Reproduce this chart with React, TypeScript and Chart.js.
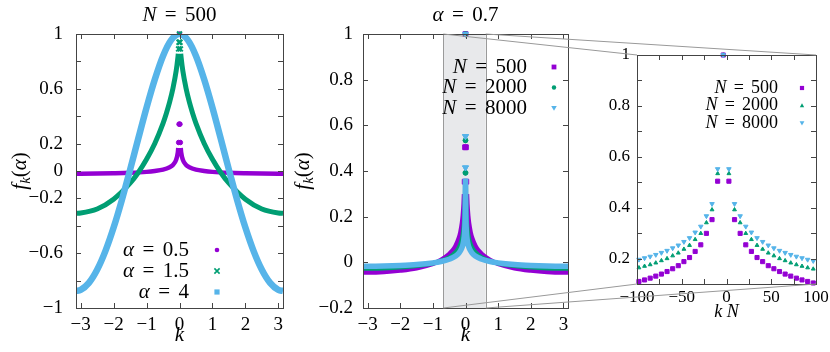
import React, { useEffect, useRef } from "react";
import { Chart, registerables } from "chart.js";
Chart.register(...registerables);

const PURPLE = "#9400d3";
const GREEN = "#009e73";
const BLUE = "#56b4e9";
const SERIF = '"Liberation Serif", "DejaVu Serif", serif';

// ---------------- Panel 1: N = 500 ----------------
const p1XTicks = [-3, -2, -1, 0, 1, 2, 3];
const p1YTicks = [-1, -0.8, -0.6, -0.4, -0.2, 0, 0.2, 0.4, 0.6, 0.8, 1];
const p1YLabels = [-1, -0.6, -0.2, 0, 0.2, 0.6, 1];

const a05K = [-3.1416, -3, -2.5, -2, -1.5, -1, -0.75, -0.5, -0.3, -0.2, -0.1, -0.05, -0.0377, 0, 0.0377, 0.05, 0.1, 0.2, 0.3, 0.5, 0.75, 1, 1.5, 2, 2.5, 3, 3.1416];
const a05F = [-0.02, -0.02, -0.019, -0.017, -0.0135, -0.0064, 0.0, 0.01, 0.0275, 0.0445, 0.083, 0.137, 0.168, null, 0.168, 0.137, 0.083, 0.0445, 0.0275, 0.01, 0.0, -0.0064, -0.0135, -0.017, -0.019, -0.02, -0.02];
const a05PeakK = [0, -0.0126, 0.0126, -0.0251, 0.0251];
const a05PeakF = [1, 0.342, 0.342, 0.208, 0.208];

const a15K = [-3.1416, -3, -2.5, -2, -1.5, -1.25, -1, -0.75, -0.5, -0.4, -0.3, -0.2, -0.1, -0.05, -0.0377, 0, 0.0377, 0.05, 0.1, 0.2, 0.3, 0.4, 0.5, 0.75, 1, 1.25, 1.5, 2, 2.5, 3, 3.1416];
const a15F = [-0.308, -0.306, -0.277, -0.206, -0.089, -0.011, 0.085, 0.201, 0.348, 0.42, 0.502, 0.602, 0.732, 0.826, 0.855, null, 0.855, 0.826, 0.732, 0.602, 0.502, 0.42, 0.348, 0.201, 0.085, -0.011, -0.089, -0.206, -0.277, -0.306, -0.308];
const a15PeakK = [0, -0.0126, 0.0126, -0.0251, 0.0251];
const a15PeakF = [1, 0.94, 0.94, 0.891, 0.891];

const a4K = [-3.1416, -3, -2.75, -2.5, -2.25, -2, -1.75, -1.5, -1.25, -1, -0.75, -0.5, -0.25, 0, 0.25, 0.5, 0.75, 1, 1.25, 1.5, 1.75, 2, 2.25, 2.5, 2.75, 3, 3.1416];
const a4F = [-0.875, -0.868, -0.817, -0.721, -0.585, -0.413, -0.212, 0.009, 0.238, 0.463, 0.668, 0.84, 0.957, 1, 0.957, 0.84, 0.668, 0.463, 0.238, 0.009, -0.212, -0.413, -0.585, -0.721, -0.817, -0.868, -0.875];

// ---------------- Panel 2: alpha = 0.7 ----------------
const p2XTicks = [-3, -2, -1, 0, 1, 2, 3];
const p2YTicks = [-0.2, 0, 0.2, 0.4, 0.6, 0.8, 1];
const p2YLabels = [-0.2, 0, 0.2, 0.4, 0.6, 0.8, 1];
const shadeK = [-0.68, 0.62];

const m500K = [-3.1416, -3, -2.5, -2, -1.5, -1, -0.75, -0.5, -0.4, -0.3, -0.2, -0.15, -0.1, -0.075, -0.05, -0.0377, 0, 0.0377, 0.05, 0.075, 0.1, 0.15, 0.2, 0.3, 0.4, 0.5, 0.75, 1, 1.5, 2, 2.5, 3, 3.1416];
const m500F = [-0.0437, -0.0436, -0.041, -0.035, -0.025, -0.006, 0.0095, 0.035, 0.05, 0.071, 0.105, 0.131, 0.173, 0.205, 0.2565, 0.299, null, 0.299, 0.2565, 0.205, 0.173, 0.131, 0.105, 0.071, 0.05, 0.035, 0.0095, -0.006, -0.025, -0.035, -0.041, -0.0436, -0.0437];
const m500PeakK = [0, -0.0126, 0.0126, -0.0251, 0.0251];
const m500PeakF = [1, 0.504, 0.504, 0.353, 0.353];

const m2000K = [-3.1416, -3, -2.5, -2, -1.5, -1, -0.75, -0.5, -0.4, -0.3, -0.2, -0.15, -0.1, -0.075, -0.05, -0.04, -0.03, -0.02, -0.0126, -0.0094, 0, 0.0094, 0.0126, 0.02, 0.03, 0.04, 0.05, 0.075, 0.1, 0.15, 0.2, 0.3, 0.4, 0.5, 0.75, 1, 1.5, 2, 2.5, 3, 3.1416];
const m2000F = [-0.0271, -0.027, -0.0256, -0.022, -0.0155, -0.004, 0.006, 0.0215, 0.031, 0.044, 0.065, 0.0815, 0.107, 0.127, 0.159, 0.178, 0.205, 0.2465, 0.299, 0.341, null, 0.341, 0.299, 0.2465, 0.205, 0.178, 0.159, 0.127, 0.107, 0.0815, 0.065, 0.044, 0.031, 0.0215, 0.006, -0.004, -0.0155, -0.022, -0.0256, -0.027, -0.0271];
const m2000PeakK = [0, -0.0031, 0.0031, -0.0063, 0.0063];
const m2000PeakF = [1, 0.534, 0.534, 0.392, 0.392];

const m8000K = [-3.1416, -3, -2.5, -2, -1.5, -1, -0.75, -0.5, -0.4, -0.3, -0.2, -0.15, -0.1, -0.075, -0.05, -0.04, -0.03, -0.02, -0.01, -0.005, -0.0024, 0, 0.0024, 0.005, 0.01, 0.02, 0.03, 0.04, 0.05, 0.075, 0.1, 0.15, 0.2, 0.3, 0.4, 0.5, 0.75, 1, 1.5, 2, 2.5, 3, 3.1416];
const m8000F = [-0.0172, -0.0172, -0.0163, -0.0139, -0.0098, -0.0024, 0.0037, 0.0136, 0.02, 0.028, 0.041, 0.052, 0.068, 0.081, 0.101, 0.113, 0.13, 0.156, 0.21, 0.275, 0.367, null, 0.367, 0.275, 0.21, 0.156, 0.13, 0.113, 0.101, 0.081, 0.068, 0.052, 0.041, 0.028, 0.02, 0.0136, 0.0037, -0.0024, -0.0098, -0.0139, -0.0163, -0.0172, -0.0172];
const m8000PeakK = [0, -0.0008, 0.0008, -0.0016, 0.0016];
const m8000PeakF = [1, 0.552, 0.552, 0.415, 0.415];

// ---------------- Panel 3: inset, k N ----------------
const p3XTicks = [-100, -75, -50, -25, 0, 25, 50, 75, 100];
const p3XLabels = [-100, -50, 0, 50, 100];
const p3YTicks = [0.1, 0.2, 0.3, 0.4, 0.5, 0.6, 0.7, 0.8, 0.9, 1];
const p3YLabels = [0.2, 0.4, 0.6, 0.8, 1];

const inKN = [-97.85, -91.56, -85.28, -79.0, -72.72, -66.43, -60.15, -53.87, -47.58, -41.3, -35.02, -28.73, -22.45, -16.17, -9.88, -3.6, 2.68, 8.97, 15.25, 21.53, 27.82, 34.1, 40.38, 46.67, 52.95, 59.23, 65.51, 71.8, 78.08, 84.36, 90.65, 96.93];
const in500 = [0.11, 0.116, 0.123, 0.131, 0.139, 0.149, 0.16, 0.172, 0.188, 0.204, 0.228, 0.254, 0.299, 0.353, 0.504, 1, 0.504, 0.353, 0.299, 0.254, 0.228, 0.204, 0.188, 0.172, 0.16, 0.149, 0.139, 0.131, 0.123, 0.116, 0.11, 0.104];
const in2000 = [0.164, 0.17, 0.176, 0.183, 0.192, 0.2, 0.211, 0.222, 0.237, 0.252, 0.275, 0.299, 0.341, 0.392, 0.534, 1, 0.534, 0.392, 0.341, 0.299, 0.275, 0.252, 0.237, 0.222, 0.211, 0.2, 0.192, 0.183, 0.176, 0.17, 0.164, 0.159];
const in8000 = [0.196, 0.202, 0.208, 0.215, 0.223, 0.231, 0.241, 0.252, 0.266, 0.281, 0.303, 0.326, 0.367, 0.415, 0.552, 1, 0.552, 0.415, 0.367, 0.326, 0.303, 0.281, 0.266, 0.252, 0.241, 0.231, 0.223, 0.215, 0.208, 0.202, 0.196, 0.191];

// ---------------- helpers ----------------
type Seg = { t: string; it?: boolean; sub?: boolean; pad?: number };

const pts = (ks: number[], fs: (number | null)[]) => ks.map((k, i) => ({ x: k, y: fs[i] }));

const fmt = (v: number) => String(Math.round(v * 1000) / 1000).replace("-", "\u2212");

function drawRich(ctx: CanvasRenderingContext2D, segs: Seg[], x: number, y: number, size: number, align: string) {
  const widths: number[] = [];
  let total = 0;
  for (const s of segs) {
    const fs = s.sub ? size * 0.7 : size;
    ctx.font = `${s.it ? "italic " : ""}${fs}px ${SERIF}`;
    const w = ctx.measureText(s.t).width + 2 * (s.pad || 0) * size;
    widths.push(w);
    total += w;
  }
  let cx = align === "center" ? x - total / 2 : align === "right" ? x - total : x;
  ctx.textAlign = "left";
  ctx.textBaseline = "middle";
  ctx.fillStyle = "#000";
  segs.forEach((s, i) => {
    const fs = s.sub ? size * 0.7 : size;
    ctx.font = `${s.it ? "italic " : ""}${fs}px ${SERIF}`;
    ctx.fillText(s.t, cx + (s.pad || 0) * size, y + (s.sub ? size * 0.28 : 0));
    cx += widths[i];
  });
}

function marker(ctx: CanvasRenderingContext2D, style: string, x: number, y: number, r: number, color: string) {
  ctx.save();
  ctx.fillStyle = color;
  ctx.strokeStyle = color;
  ctx.lineWidth = 1.6;
  ctx.beginPath();
  if (style === "rect") {
    ctx.rect(x - r, y - r, 2 * r, 2 * r);
    ctx.fill();
  } else if (style === "circle") {
    ctx.arc(x, y, r, 0, Math.PI * 2);
    ctx.fill();
  } else if (style === "triUp") {
    ctx.moveTo(x, y - r);
    ctx.lineTo(x + r, y + r * 0.75);
    ctx.lineTo(x - r, y + r * 0.75);
    ctx.closePath();
    ctx.fill();
  } else if (style === "triDown") {
    ctx.moveTo(x, y + r);
    ctx.lineTo(x + r, y - r * 0.75);
    ctx.lineTo(x - r, y - r * 0.75);
    ctx.closePath();
    ctx.fill();
  } else if (style === "cross") {
    ctx.moveTo(x - r, y - r);
    ctx.lineTo(x + r, y + r);
    ctx.moveTo(x + r, y - r);
    ctx.lineTo(x - r, y + r);
    ctx.stroke();
  }
  ctx.restore();
}

function axis(min: number, max: number, tickVals: number[], labelVals: number[], size: number, pad: number, extent: number, isX: boolean) {
  return {
    type: "linear",
    min,
    max,
    grid: { display: false, drawTicks: false },
    border: { display: false },
    afterBuildTicks: (ax: any) => {
      ax.ticks = tickVals.map((v) => ({ value: v }));
    },
    afterFit: (ax: any) => {
      if (isX) {
        ax.height = extent;
        ax.paddingLeft = 0;
        ax.paddingRight = 0;
      } else {
        ax.width = extent;
        ax.paddingTop = 0;
        ax.paddingBottom = 0;
      }
    },
    ticks: {
      autoSkip: false,
      maxRotation: 0,
      minRotation: 0,
      padding: pad,
      color: "#000",
      font: { family: SERIF, size },
      callback: (v: number) => (labelVals.some((l) => Math.abs(l - v) < 1e-9) ? fmt(v) : ""),
    },
  };
}

function decor(key: string, opts: { before?: (c: any, ctx: CanvasRenderingContext2D) => void; after: (c: any, ctx: CanvasRenderingContext2D) => void }) {
  return {
    id: "decor" + key,
    beforeDatasetsDraw(chart: any) {
      if (opts.before) {
        chart.ctx.save();
        opts.before(chart, chart.ctx);
        chart.ctx.restore();
      }
    },
    afterDatasetsDraw(chart: any) {
      const ctx = chart.ctx;
      const a = chart.chartArea;
      const xs = chart.scales.x;
      const ys = chart.scales.y;
      const TL = 5;
      ctx.save();
      ctx.strokeStyle = "#444";
      ctx.lineWidth = 1;
      ctx.beginPath();
      for (const t of xs.ticks) {
        const px = Math.round(xs.getPixelForValue(t.value)) + 0.5;
        ctx.moveTo(px, a.bottom);
        ctx.lineTo(px, a.bottom - TL);
        ctx.moveTo(px, a.top);
        ctx.lineTo(px, a.top + TL);
      }
      for (const t of ys.ticks) {
        const py = Math.round(ys.getPixelForValue(t.value)) + 0.5;
        ctx.moveTo(a.left, py);
        ctx.lineTo(a.left + TL, py);
        ctx.moveTo(a.right, py);
        ctx.lineTo(a.right - TL, py);
      }
      ctx.stroke();
      ctx.strokeRect(Math.round(a.left) + 0.5, Math.round(a.top) + 0.5, Math.round(a.right - a.left), Math.round(a.bottom - a.top));
      ctx.restore();
    },
    afterDraw(chart: any) {
      chart.ctx.save();
      opts.after(chart, chart.ctx);
      chart.ctx.restore();
    },
  };
}

const fLabel: Seg[] = [{ t: "f", it: true }, { t: "k", it: true, sub: true }, { t: "(" }, { t: "\u03b1", it: true }, { t: ")" }];

function baseOptions(pad: any, x: any, y: any) {
  return {
    responsive: false,
    animation: false,
    devicePixelRatio: 1,
    events: [],
    layout: { padding: pad },
    plugins: { legend: { display: false }, tooltip: { enabled: false }, title: { display: false } },
    scales: { x, y },
  };
}

function band(data: any, color: string, width: number) {
  return { data, showLine: true, pointRadius: 0, borderColor: color, backgroundColor: color, borderWidth: width, spanGaps: false, cubicInterpolationMode: "monotone" };
}

function dots(data: any, color: string, style: string, r: number, rot = 0, bw = 1) {
  return { data, showLine: false, pointStyle: style, pointRadius: r, rotation: rot, borderColor: color, backgroundColor: color, borderWidth: bw, clip: false };
}

const MID_LEFT = 290;
const INSET_LEFT = 580;

export default function App() {
  const c1 = useRef<HTMLCanvasElement>(null);
  const c2 = useRef<HTMLCanvasElement>(null);
  const c3 = useRef<HTMLCanvasElement>(null);
  const ov = useRef<HTMLCanvasElement>(null);

  useEffect(() => {
    const charts: any[] = [];

    // ---- panel 1 ----
    charts.push(
      new Chart(c1.current as any, {
        type: "scatter",
        data: {
          datasets: [
            band(pts(a4K, a4F), BLUE, 6.5),
            band(pts(a15K, a15F), GREEN, 5),
            dots(pts(a15PeakK, a15PeakF), GREEN, "crossRot", 3.5, 0, 2),
            band(pts(a05K, a05F), PURPLE, 4.5),
            dots(pts(a05PeakK, a05PeakF), PURPLE, "circle", 2.3),
          ] as any,
        },
        options: baseOptions(
          { left: 0, right: 7, top: 34, bottom: 0 },
          axis(-Math.PI, Math.PI, p1XTicks, p1XTicks, 19, 6, 44, true),
          axis(-1, 1, p1YTicks, p1YLabels, 19, 13, 76, false)
        ) as any,
        plugins: [
          decor("a", {
            after: (chart, ctx) => {
              const a = chart.chartArea;
              const cx = (a.left + a.right) / 2;
              drawRich(ctx, [{ t: "N", it: true }, { t: "=", pad: 0.4 }, { t: "500" }], cx, 15, 21, "center");
              drawRich(ctx, [{ t: "k", it: true }], cx, 335, 21, "center");
              ctx.save();
              ctx.translate(20, (a.top + a.bottom) / 2);
              ctx.rotate(-Math.PI / 2);
              drawRich(ctx, fLabel, 0, 0, 21, "center");
              ctx.restore();
              const rows = [
                { v: "0.5", c: PURPLE, s: "circle", r: 2.3 },
                { v: "1.5", c: GREEN, s: "cross", r: 2.6 },
                { v: "4", c: BLUE, s: "rect", r: 2.6 },
              ];
              rows.forEach((row, i) => {
                const y = 250 + i * 21;
                drawRich(ctx, [{ t: "\u03b1", it: true }, { t: "=", pad: 0.4 }, { t: row.v }], 189, y, 21, "right");
                marker(ctx, row.s, 217, y, row.r, row.c);
              });
            },
          }),
        ],
      })
    );

    // ---- panel 2 ----
    const mid = new Chart(c2.current as any, {
      type: "scatter",
      data: {
        datasets: [
          dots(pts(m8000PeakK, m8000PeakF), BLUE, "triangle", 3.4, 180),
          band(pts(m8000K, m8000F), BLUE, 5.5),
          dots(pts(m2000PeakK, m2000PeakF), GREEN, "circle", 2.3),
          band(pts(m2000K, m2000F), GREEN, 4.5),
          dots(pts(m500PeakK, m500PeakF), PURPLE, "rect", 3.4),
          band(pts(m500K, m500F), PURPLE, 5),
        ] as any,
      },
      options: baseOptions(
        { left: 0, right: 12, top: 34, bottom: 0 },
        axis(-Math.PI, Math.PI, p2XTicks, p2XTicks, 19, 6, 44, true),
        axis(-0.2, 1, p2YTicks, p2YLabels, 19, 10, 73, false)
      ) as any,
      plugins: [
        decor("b", {
          before: (chart, ctx) => {
            const a = chart.chartArea;
            const xs = chart.scales.x;
            const x0 = xs.getPixelForValue(shadeK[0]);
            const x1 = xs.getPixelForValue(shadeK[1]);
            ctx.fillStyle = "#e8e9eb";
            ctx.fillRect(x0, a.top, x1 - x0, a.bottom - a.top);
            ctx.strokeStyle = "#9a9a9a";
            ctx.lineWidth = 1;
            ctx.beginPath();
            ctx.moveTo(Math.round(x0) + 0.5, a.top);
            ctx.lineTo(Math.round(x0) + 0.5, a.bottom);
            ctx.moveTo(Math.round(x1) + 0.5, a.top);
            ctx.lineTo(Math.round(x1) + 0.5, a.bottom);
            ctx.stroke();
          },
          after: (chart, ctx) => {
            const a = chart.chartArea;
            const cx = (a.left + a.right) / 2;
            drawRich(ctx, [{ t: "\u03b1", it: true }, { t: "=", pad: 0.4 }, { t: "0.7" }], cx, 15, 21, "center");
            drawRich(ctx, [{ t: "k", it: true }], cx, 335, 21, "center");
            ctx.save();
            ctx.translate(13, (a.top + a.bottom) / 2);
            ctx.rotate(-Math.PI / 2);
            drawRich(ctx, fLabel, 0, 0, 21, "center");
            ctx.restore();
            const rows = [
              { v: "500", c: PURPLE, s: "rect", r: 2.4, y: 67 },
              { v: "2000", c: GREEN, s: "circle", r: 2.2, y: 87.5 },
              { v: "8000", c: BLUE, s: "triDown", r: 2.8, y: 108 },
            ];
            rows.forEach((row) => {
              drawRich(ctx, [{ t: "N", it: true }, { t: "=", pad: 0.4 }, { t: row.v }], 237, row.y, 21, "right");
              marker(ctx, row.s, 264, row.y, row.r, row.c);
            });
          },
        }),
      ],
    });
    charts.push(mid);

    // ---- panel 3 (inset) ----
    const ins = new Chart(c3.current as any, {
      type: "scatter",
      data: {
        datasets: [
          dots(pts(inKN, in8000), BLUE, "triangle", 2.6, 180),
          dots(pts(inKN, in2000), GREEN, "triangle", 2.2),
          dots(pts(inKN, in500), PURPLE, "rect", 2.9),
        ] as any,
      },
      options: baseOptions(
        { left: 0, right: 14, top: 55, bottom: 0 },
        axis(-100, 100, p3XTicks, p3XLabels, 17, 3, 68, true),
        axis(0.1, 1, p3YTicks, p3YLabels, 17, 7, 57, false)
      ) as any,
      plugins: [
        decor("c", {
          after: (chart, ctx) => {
            const a = chart.chartArea;
            const cx = (a.left + a.right) / 2;
            drawRich(ctx, [{ t: "k", it: true }, { t: " " }, { t: "N", it: true }], cx, 312, 18, "center");
            const rows = [
              { v: "500", c: PURPLE, s: "rect", r: 2.1, y: 88 },
              { v: "2000", c: GREEN, s: "triUp", r: 2.2, y: 105.5 },
              { v: "8000", c: BLUE, s: "triDown", r: 2.4, y: 123 },
            ];
            rows.forEach((row) => {
              drawRich(ctx, [{ t: "N", it: true }, { t: "=", pad: 0.4 }, { t: row.v }], 198, row.y, 18, "right");
              marker(ctx, row.s, 222, row.y, row.r, row.c);
            });
          },
        }),
      ],
    });
    charts.push(ins);

    // ---- zoom connector lines ----
    const octx = (ov.current as HTMLCanvasElement).getContext("2d") as CanvasRenderingContext2D;
    octx.clearRect(0, 0, 830, 352);
    const ma = mid.chartArea;
    const xl = mid.scales.x.getPixelForValue(shadeK[0]) + MID_LEFT;
    const xr = mid.scales.x.getPixelForValue(shadeK[1]) + MID_LEFT;
    const ia = ins.chartArea;
    const il = ia.left + INSET_LEFT;
    const ir = ia.right + INSET_LEFT;
    octx.strokeStyle = "#999";
    octx.lineWidth = 1;
    octx.beginPath();
    octx.moveTo(xl, ma.top);
    octx.lineTo(il, ia.top);
    octx.moveTo(xr, ma.top);
    octx.lineTo(ir, ia.top);
    octx.moveTo(xl, ma.bottom);
    octx.lineTo(il, ia.bottom);
    octx.moveTo(xr, ma.bottom);
    octx.lineTo(ir, ia.bottom);
    octx.stroke();

    return () => {
      charts.forEach((c) => c.destroy());
    };
  }, []);

  const abs = (left: number, w: number) => ({ position: "absolute" as const, left, top: 0, width: w, height: 352 });

  return (
    <div style={{ position: "absolute", left: 0, top: 0, width: 830, height: 352, background: "#fff" }}>
      <canvas ref={c1} width={290} height={352} style={abs(0, 290)} />
      <canvas ref={c2} width={290} height={352} style={abs(MID_LEFT, 290)} />
      <canvas ref={c3} width={250} height={352} style={abs(INSET_LEFT, 250)} />
      <canvas ref={ov} width={830} height={352} style={{ ...abs(0, 830), pointerEvents: "none" }} />
    </div>
  );
}
